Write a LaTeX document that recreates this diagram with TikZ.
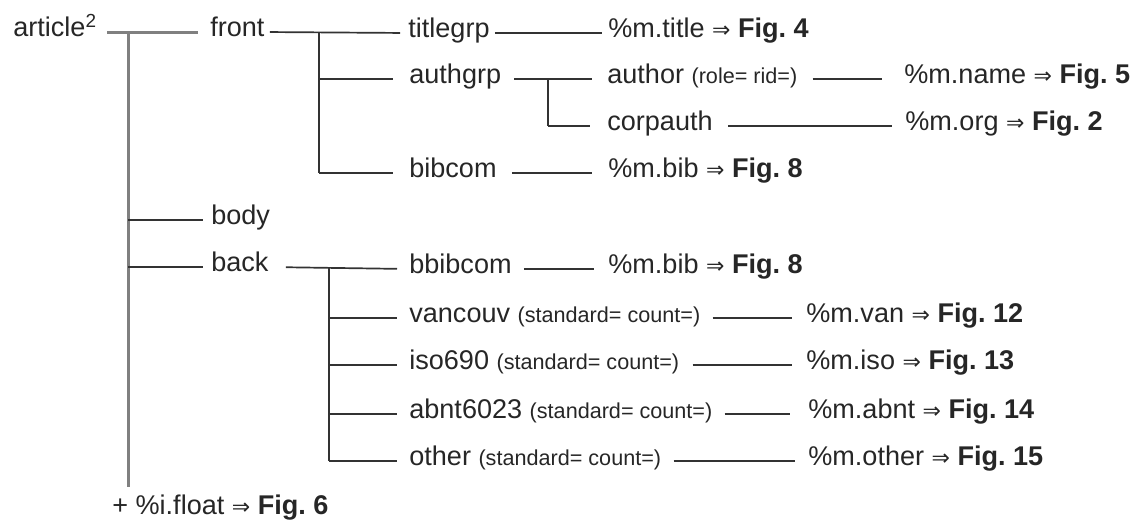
\documentclass[tikz,border=0pt]{standalone}
\usepackage{fontspec}
\setmainfont{Liberation Sans}
\newfontfamily\arrowfont{DejaVu Sans}
\usepackage{tikz}
\usetikzlibrary{calc}

\newdimen\pxu \pxu=0.02cm
\newcommand{\tofig}[1]{{\arrowfont\fontsize{12.5}{14}\selectfont ⇒} \textbf{Fig.\ #1}}
\newcommand{\attr}[1]{{\fontsize{12.3}{14}\selectfont #1}}

\begin{document}
\begin{tikzpicture}[
      x=0.02cm, y=-0.02cm,
      every node/.style={anchor=west, inner sep=0pt, text height=0.5em, text depth=0pt,
                         font=\fontsize{15.4}{18}\selectfont, text=black!85},
      link/.style={draw=black!80, line width=1.7\pxu},
      trunk/.style={draw=black!50, line width=3\pxu}
    ]
      \useasboundingbox (0,0) rectangle (1132,522);

      % element names
      \node (article) at (13,32) {article\textsuperscript{2}};
      \node (front) at (210,32) {front};
      \node (titlegrp) at (408,33) {titlegrp};
      \node (authgrp) at (409,79) {authgrp};
      \node (author) at (607,79) {author \attr{(role= rid=)}};
      \node (corpauth) at (607,126) {corpauth};
      \node (bibcom) at (409,173) {bibcom};
      \node (body) at (211,220) {body};
      \node (back) at (211,267) {back};
      \node (bbibcom) at (409,269) {bbibcom};
      \node (vancouv) at (409,318) {vancouv \attr{(standard= count=)}};
      \node (iso) at (409,365) {iso690 \attr{(standard= count=)}};
      \node (abnt) at (409,414) {abnt6023 \attr{(standard= count=)}};
      \node (other) at (409,461) {other \attr{(standard= count=)}};

      % macro references
      \node (mtitle) at (608,33) {\%m.title \tofig{4}};
      \node (mname) at (904,79) {\%m.name \tofig{5}};
      \node (morg) at (905,126) {\%m.org \tofig{2}};
      \node (mbib) at (608,173) {\%m.bib \tofig{8}};
      \node (mbbib) at (608,269) {\%m.bib \tofig{8}};
      \node (mvan) at (806,318) {\%m.van \tofig{12}};
      \node (miso) at (806,365) {\%m.iso \tofig{13}};
      \node (mabnt) at (808,414) {\%m.abnt \tofig{14}};
      \node (mother) at (808,461) {\%m.other \tofig{15}};
      \node (float) at (112,510) {+ \%i.float \tofig{6}};

      % junctions
      \coordinate (artj) at (128,32);
      \coordinate (trunkend) at (128,487);
      \coordinate (frontj) at (319,33);
      \coordinate (authj) at (548,79);
      \coordinate (backj) at (329,268);

      % article level
      \draw[trunk, shorten <=10\pxu, shorten >=12\pxu] (article.east) -- (front.west);
      \draw[trunk] (artj) -- (trunkend);
      \draw[link, shorten >=8\pxu] (artj |- body) -- (body.west);
      \draw[link, shorten >=8\pxu] (artj |- back) -- (back.west);

      % front
      \draw[link, shorten <=5\pxu, shorten >=8\pxu] (front.east) -- (titlegrp.west);
      \draw[link] (frontj) -- (frontj |- bibcom);
      \draw[link, shorten >=16\pxu] (frontj |- authgrp) -- (authgrp.west);
      \draw[link, shorten >=16\pxu] (frontj |- bibcom) -- (bibcom.west);
      \draw[link, shorten <=5\pxu, shorten >=6\pxu] (titlegrp.east) -- (mtitle.west);
      \draw[link, shorten <=13\pxu, shorten >=15\pxu] (authgrp.east) -- (author.west);
      \draw[link] (authj) -- (authj |- corpauth);
      \draw[link, shorten >=17\pxu] (authj |- corpauth) -- (corpauth.west);
      \draw[link, shorten <=15\pxu, shorten >=22\pxu] (author.east) -- (mname.west);
      \draw[link, shorten <=15\pxu, shorten >=13\pxu] (corpauth.east) -- (morg.west);
      \draw[link, shorten <=15\pxu, shorten >=16\pxu] (bibcom.east) -- (mbib.west);

      % back
      \draw[link, shorten <=17\pxu, shorten >=12\pxu] (back.east) -- (bbibcom.west);
      \draw[link] (backj) -- (backj |- other);
      \foreach \n in {vancouv, iso, abnt, other}
        \draw[link, shorten >=12\pxu] (backj |- \n) -- (\n.west);
      \draw[link, shorten <=12\pxu, shorten >=14\pxu] (bbibcom.east) -- (mbbib.west);
      \draw[link, shorten <=12\pxu, shorten >=14\pxu] (vancouv.east) -- (mvan.west);
      \draw[link, shorten <=13\pxu, shorten >=14\pxu] (iso.east) -- (miso.west);
      \draw[link, shorten <=12\pxu, shorten >=18\pxu] (abnt.east) -- (mabnt.west);
      \draw[link, shorten <=12\pxu, shorten >=13\pxu] (other.east) -- (mother.west);
    \end{tikzpicture}
\end{document}
